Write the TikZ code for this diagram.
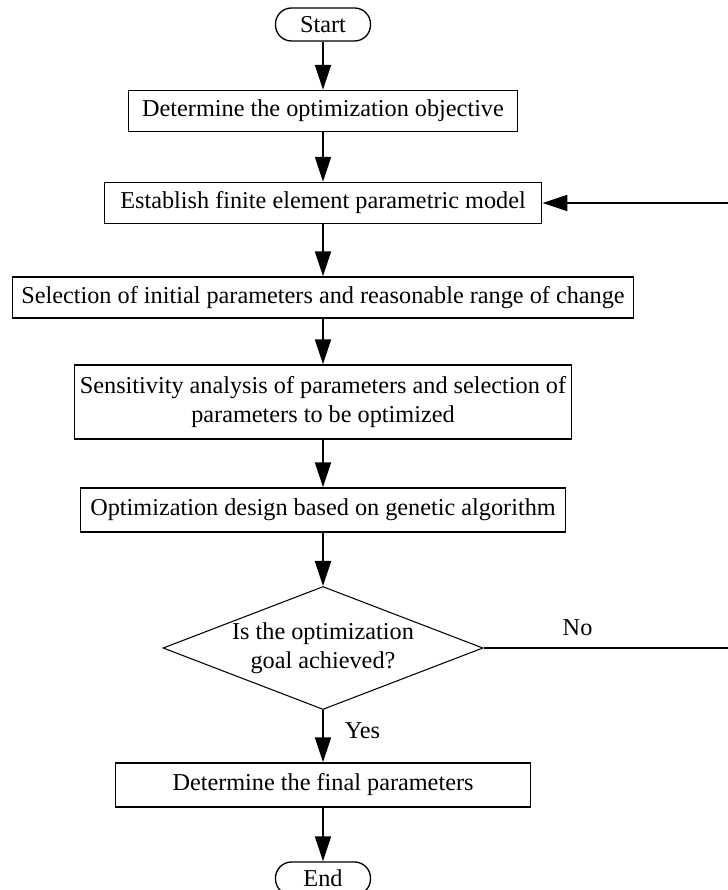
\documentclass[tikz,border=0pt]{standalone}
\usepackage{fontspec}
\setmainfont{Liberation Serif}
\usetikzlibrary{positioning, arrows.meta, shapes.geometric}

\tikzset{
  stepbox/.style={draw, line width=0.75pt, inner sep=0pt, align=center,
                  minimum height=0.82cm},
  termbox/.style={draw, line width=0.75pt, rounded corners=0.32cm,
                  minimum width=1.9cm, minimum height=0.66cm, inner sep=0pt},
  decbox/.style={draw, line width=0.6pt, diamond, aspect=2.6, inner sep=0pt,
                 align=center, minimum width=6.4cm, minimum height=2.46cm},
  flow/.style={line width=1.1pt, -{Triangle[length=0.5cm, width=0.32cm]}},
}

\begin{document}
\begin{tikzpicture}[font=\fontsize{13.8}{16.5}\selectfont]
    \useasboundingbox (-6.46,0.49) rectangle (8.1,-17.31);

    \node[termbox] (start) at (0,0) {Start};
    \node[stepbox, minimum width=7.78cm] (objective) at (0,-1.73)
      {Determine the optimization objective};
    \node[stepbox, minimum width=8.75cm] (model) at (0,-3.57)
      {Establish finite element parametric model};
    \node[stepbox, minimum width=12.41cm] (range) at (0,-5.46)
      {Selection of initial parameters and reasonable range of change};
    \node[stepbox, minimum width=9.94cm, minimum height=1.48cm] (sens) at (0,-7.55)
      {Sensitivity analysis of parameters and selection of\\ parameters to be optimized};
    \node[stepbox, minimum width=9.7cm, minimum height=0.88cm] (genetic) at (0,-9.71)
      {Optimization design based on genetic algorithm};
    \node[decbox] (goal) at (0,-12.47) {Is the optimization\\ goal achieved?};
    \node[stepbox, minimum width=8.3cm, minimum height=0.88cm] (final) at (0,-15.21)
      {Determine the final parameters};
    \node[termbox] (end) at (0,-17.08) {End};

    \coordinate (backlow) at (8.16,0 |- goal.east);
    \coordinate (backhigh) at (8.16,0 |- model.east);

    \draw[flow] (start) -- (objective);
    \draw[flow] (objective) -- (model);
    \draw[flow] (model) -- (range);
    \draw[flow] (range) -- (sens);
    \draw[flow] (sens) -- (genetic);
    \draw[flow] (genetic) -- (goal);
    \draw[flow] (goal) -- node[pos=0.4, right=0.3cm] {Yes} (final);
    \draw[flow] (final) -- (end);

    % back to the model when the goal is not reached
    \draw[flow] (goal.east) -- node[pos=0.38, above=0.1cm] {No} (backlow)
      -- (backhigh) -- (model.east);
  \end{tikzpicture}
\end{document}
